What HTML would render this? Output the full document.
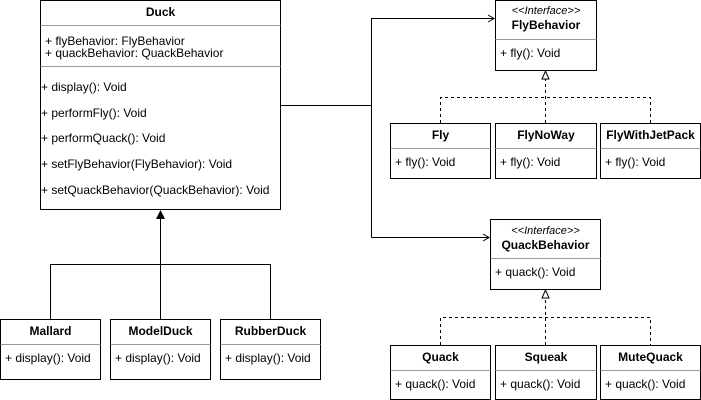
<!DOCTYPE html>
<html><head><meta charset="utf-8"><style>
html,body{margin:0;padding:0;background:#fff;}
svg{display:block;}
text{font-family:"Liberation Sans",Arial,sans-serif;font-size:12px;fill:#000;}
.b{font-weight:bold;}
.i{font-style:italic;font-size:11px;}
.box{fill:#fff;stroke:#000;stroke-width:1;}
.div{stroke:#999;stroke-width:1;}
.ln{stroke:#000;stroke-width:1;fill:none;}
.ds{stroke:#000;stroke-width:1;fill:none;stroke-dasharray:3,3;}
</style></head><body>
<svg width="701" height="400" viewBox="0 0 701 400" xmlns="http://www.w3.org/2000/svg">
<!-- Duck -->
<rect class="box" x="40.5" y="0.5" width="240" height="209"/>
<text class="b" x="160.5" y="16" text-anchor="middle">Duck</text>
<line class="div" x1="40.5" y1="25.5" x2="280.5" y2="25.5"/>
<text x="45" y="45">+ flyBehavior: FlyBehavior</text>
<text x="45" y="57">+ quackBehavior: QuackBehavior</text>
<line class="div" x1="40.5" y1="66.5" x2="280.5" y2="66.5"/>
<text x="41" y="91">+ display(): Void</text>
<text x="41" y="117">+ performFly(): Void</text>
<text x="41" y="142">+ performQuack(): Void</text>
<text x="41" y="168">+ setFlyBehavior(FlyBehavior): Void</text>
<text x="41" y="194">+ setQuackBehavior(QuackBehavior): Void</text>

<polyline class="ln" points="50.5,319 50.5,264.5 270.5,264.5 270.5,319"/>
<line class="ln" x1="160.5" y1="319" x2="160.5" y2="218"/>
<polygon points="160.5,210 156,219 165,219" fill="#000"/>

<rect class="box" x="0.5" y="319.5" width="100" height="60"/>
<text class="b" x="50.5" y="335" text-anchor="middle">Mallard</text>
<line class="div" x1="0.5" y1="344.5" x2="100.5" y2="344.5"/>
<text x="5" y="362">+ display(): Void</text>
<rect class="box" x="110.5" y="319.5" width="100" height="60"/>
<text class="b" x="160.5" y="335" text-anchor="middle">ModelDuck</text>
<line class="div" x1="110.5" y1="344.5" x2="210.5" y2="344.5"/>
<text x="115" y="362">+ display(): Void</text>
<rect class="box" x="220.5" y="319.5" width="100" height="60"/>
<text class="b" x="270.5" y="335" text-anchor="middle">RubberDuck</text>
<line class="div" x1="220.5" y1="344.5" x2="320.5" y2="344.5"/>
<text x="225" y="362">+ display(): Void</text>

<polyline class="ln" points="280.5,105.5 371.5,105.5"/>
<polyline class="ln" points="371.5,237.5 371.5,18.5 494,18.5"/>
<polyline class="ln" points="488,15 494,18.5 488,22"/>
<polyline class="ln" points="371.5,237.5 489,237.5"/>
<polyline class="ln" points="483,234 489,237.5 483,241"/>

<rect class="box" x="495.5" y="0.5" width="101" height="70"/>
<text class="i" x="546" y="14" text-anchor="middle">&lt;&lt;Interface&gt;&gt;</text>
<text class="b" x="546" y="29" text-anchor="middle">FlyBehavior</text>
<line class="div" x1="495.5" y1="39.5" x2="596.5" y2="39.5"/>
<text x="500" y="57">+ fly(): Void</text>
<polyline class="ds" points="440.5,123 440.5,97.5 650.5,97.5 650.5,123"/>
<line class="ds" x1="545.5" y1="123" x2="545.5" y2="79"/>
<polygon points="545.5,71 542,79 549,79" fill="#fff" stroke="#000"/>

<rect class="box" x="390.5" y="123.5" width="100" height="55"/>
<text class="b" x="440.5" y="139" text-anchor="middle">Fly</text>
<line class="div" x1="390.5" y1="148.5" x2="490.5" y2="148.5"/>
<text x="395" y="166">+ fly(): Void</text>
<rect class="box" x="495.5" y="123.5" width="101" height="55"/>
<text class="b" x="546" y="139" text-anchor="middle">FlyNoWay</text>
<line class="div" x1="495.5" y1="148.5" x2="596.5" y2="148.5"/>
<text x="500" y="166">+ fly(): Void</text>
<rect class="box" x="600.5" y="123.5" width="100" height="55"/>
<text class="b" x="650.5" y="139" text-anchor="middle">FlyWithJetPack</text>
<line class="div" x1="600.5" y1="148.5" x2="700.5" y2="148.5"/>
<text x="605" y="166">+ fly(): Void</text>

<rect class="box" x="490.5" y="219.5" width="110" height="70"/>
<text class="i" x="545.5" y="234" text-anchor="middle">&lt;&lt;Interface&gt;&gt;</text>
<text class="b" x="545.5" y="249" text-anchor="middle">QuackBehavior</text>
<line class="div" x1="490.5" y1="258.5" x2="600.5" y2="258.5"/>
<text x="495" y="276">+ quack(): Void</text>
<polyline class="ds" points="440.5,345 440.5,317.5 650.5,317.5 650.5,345"/>
<line class="ds" x1="545.5" y1="345" x2="545.5" y2="298"/>
<polygon points="545.5,290 542,298 549,298" fill="#fff" stroke="#000"/>

<rect class="box" x="390.5" y="345.5" width="100" height="54"/>
<text class="b" x="440.5" y="361" text-anchor="middle">Quack</text>
<line class="div" x1="390.5" y1="370.5" x2="490.5" y2="370.5"/>
<text x="395" y="388">+ quack(): Void</text>
<rect class="box" x="495.5" y="345.5" width="101" height="54"/>
<text class="b" x="546" y="361" text-anchor="middle">Squeak</text>
<line class="div" x1="495.5" y1="370.5" x2="596.5" y2="370.5"/>
<text x="500" y="388">+ quack(): Void</text>
<rect class="box" x="600.5" y="345.5" width="100" height="54"/>
<text class="b" x="650.5" y="361" text-anchor="middle">MuteQuack</text>
<line class="div" x1="600.5" y1="370.5" x2="700.5" y2="370.5"/>
<text x="605" y="388">+ quack(): Void</text>
</svg>
</body></html>
